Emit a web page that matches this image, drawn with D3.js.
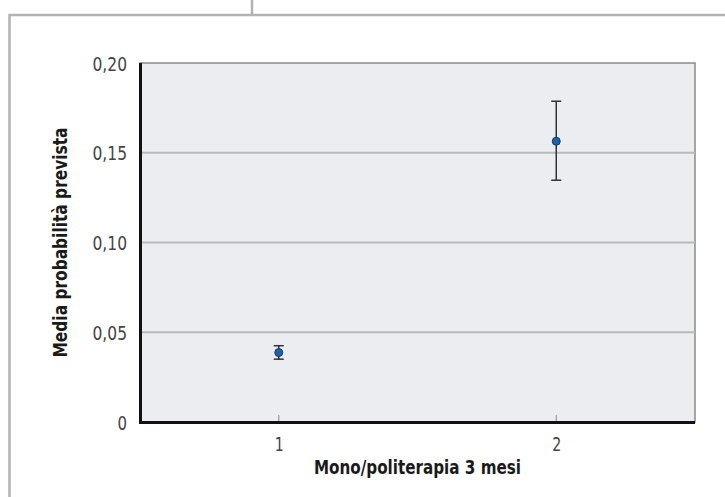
<!DOCTYPE html>
<html>
<head>
<meta charset="utf-8">
<script src="https://cdn.jsdelivr.net/npm/d3@7"></script>
<style>
	body { margin: 0; background: #fff; }
	svg text { font-family: "DejaVu Sans Condensed", "Liberation Sans Narrow", "Roboto", sans-serif; }
</style>
</head>
<body>
<script>
// data
const groups = [1, 2];
const means = [0.0387, 0.1564];
const lower = [0.0350, 0.1347];
const upper = [0.0425, 0.1787];
const yTicks = [0, 0.05, 0.10, 0.15, 0.20];

const w = 725;
const h = 497;
const pl = 140, pr = 695, pt = 63, pb = 422;

// narrow labels: squeeze text to the width it has in the original
const narrow = (s) => s.replace(/,/g, "").length * 9.5 + (s.match(/,/g) || []).length * 6;

const svg = d3.select("body").append("svg").attr("width", w).attr("height", h);

// outer frame of the page box
svg.append("path")
	.attr("d", "M9.5,497 L9.5,15 L725,15 M252,0 L252,15")
	.attr("fill", "none")
	.attr("stroke", "#b3b3b6")
	.attr("stroke-width", 2.5);

const xScale = d3.scaleLinear().domain([0.5, 2.5]).range([pl, pr]);
const yScale = d3.scaleLinear().domain([0, 0.2]).range([pb, pt]);

// plot background
svg.append("rect")
	.attr("x", pl).attr("y", pt)
	.attr("width", pr - pl).attr("height", pb - pt)
	.attr("fill", "#ecedf0")
	.attr("stroke", "#8a8a8a")
	.attr("stroke-width", 1.5);

// gridlines
svg.selectAll("line.grid")
	.data(yTicks.filter((d) => d > 0 && d < 0.2))
	.enter()
	.append("line")
	.attr("class", "grid")
	.attr("x1", pl).attr("x2", pr)
	.attr("y1", (d) => yScale(d)).attr("y2", (d) => yScale(d))
	.attr("stroke", "#b9b9bb")
	.attr("stroke-width", 2);

// y axis
const fmt = (d) => (d === 0 ? "0" : d3.format(".2f")(d).replace(".", ","));
const yAxis = d3.axisLeft(yScale).tickValues(yTicks).tickFormat(fmt).tickSize(0).tickPadding(13);
const gy = svg.append("g").attr("transform", "translate(" + pl + ",0)").call(yAxis);
gy.select(".domain").remove();
gy.selectAll("text")
	.attr("font-size", 20).attr("fill", "#444").attr("dy", "0.35em")
	.attr("textLength", (d) => narrow(fmt(d)))
	.attr("lengthAdjust", "spacingAndGlyphs");

// x axis
const xAxis = d3.axisBottom(xScale).tickValues(groups).tickFormat(d3.format("d")).tickSize(0).tickPadding(15);
const gx = svg.append("g").attr("transform", "translate(0," + pb + ")").call(xAxis);
gx.select(".domain").remove();
gx.selectAll("text")
	.attr("font-size", 20).attr("fill", "#444")
	.attr("textLength", 9)
	.attr("lengthAdjust", "spacingAndGlyphs");

// small inside ticks on x
svg.selectAll("line.xt")
	.data(groups)
	.enter()
	.append("line")
	.attr("x1", (d) => xScale(d)).attr("x2", (d) => xScale(d))
	.attr("y1", pb).attr("y2", pb - 7)
	.attr("stroke", "#9a9a9a")
	.attr("stroke-width", 1.2);

// black axis lines
svg.append("path")
	.attr("d", "M" + (pl + 0.5) + "," + pt + " L" + (pl + 0.5) + "," + (pb + 0.5) + " L" + pr + "," + (pb + 0.5))
	.attr("fill", "none")
	.attr("stroke", "#111")
	.attr("stroke-width", 3);

// error bars
const eb = svg.selectAll("g.eb").data(groups).enter().append("g");
eb.append("line")
	.attr("x1", (d) => xScale(d)).attr("x2", (d) => xScale(d))
	.attr("y1", (d, i) => yScale(lower[i])).attr("y2", (d, i) => yScale(upper[i]))
	.attr("stroke", "#333").attr("stroke-width", 1.5);
[lower, upper].forEach((arr) => {
	eb.append("line")
		.attr("x1", (d) => xScale(d) - 5).attr("x2", (d) => xScale(d) + 5)
		.attr("y1", (d, i) => yScale(arr[i])).attr("y2", (d, i) => yScale(arr[i]))
		.attr("stroke", "#333").attr("stroke-width", 1.5);
});
eb.append("circle")
	.attr("cx", (d) => xScale(d))
	.attr("cy", (d, i) => yScale(means[i]))
	.attr("r", 4)
	.attr("fill", "#1b63ad")
	.attr("stroke", "#173a5e")
	.attr("stroke-width", 1);

// axis titles
svg.append("text")
	.text("Mono/politerapia 3 mesi")
	.attr("x", (pl + pr) / 2).attr("y", 474)
	.attr("text-anchor", "middle")
	.attr("font-size", 20).attr("font-weight", "bold").attr("fill", "#1a1a1a")
	.attr("textLength", 207).attr("lengthAdjust", "spacingAndGlyphs");

svg.append("text")
	.text("Media probabilità prevista")
	.attr("transform", "translate(67," + (pt + pb) / 2 + ") rotate(-90)")
	.attr("text-anchor", "middle")
	.attr("font-size", 20).attr("font-weight", "bold").attr("fill", "#1a1a1a")
	.attr("textLength", 230).attr("lengthAdjust", "spacingAndGlyphs");
</script>
</body>
</html>
